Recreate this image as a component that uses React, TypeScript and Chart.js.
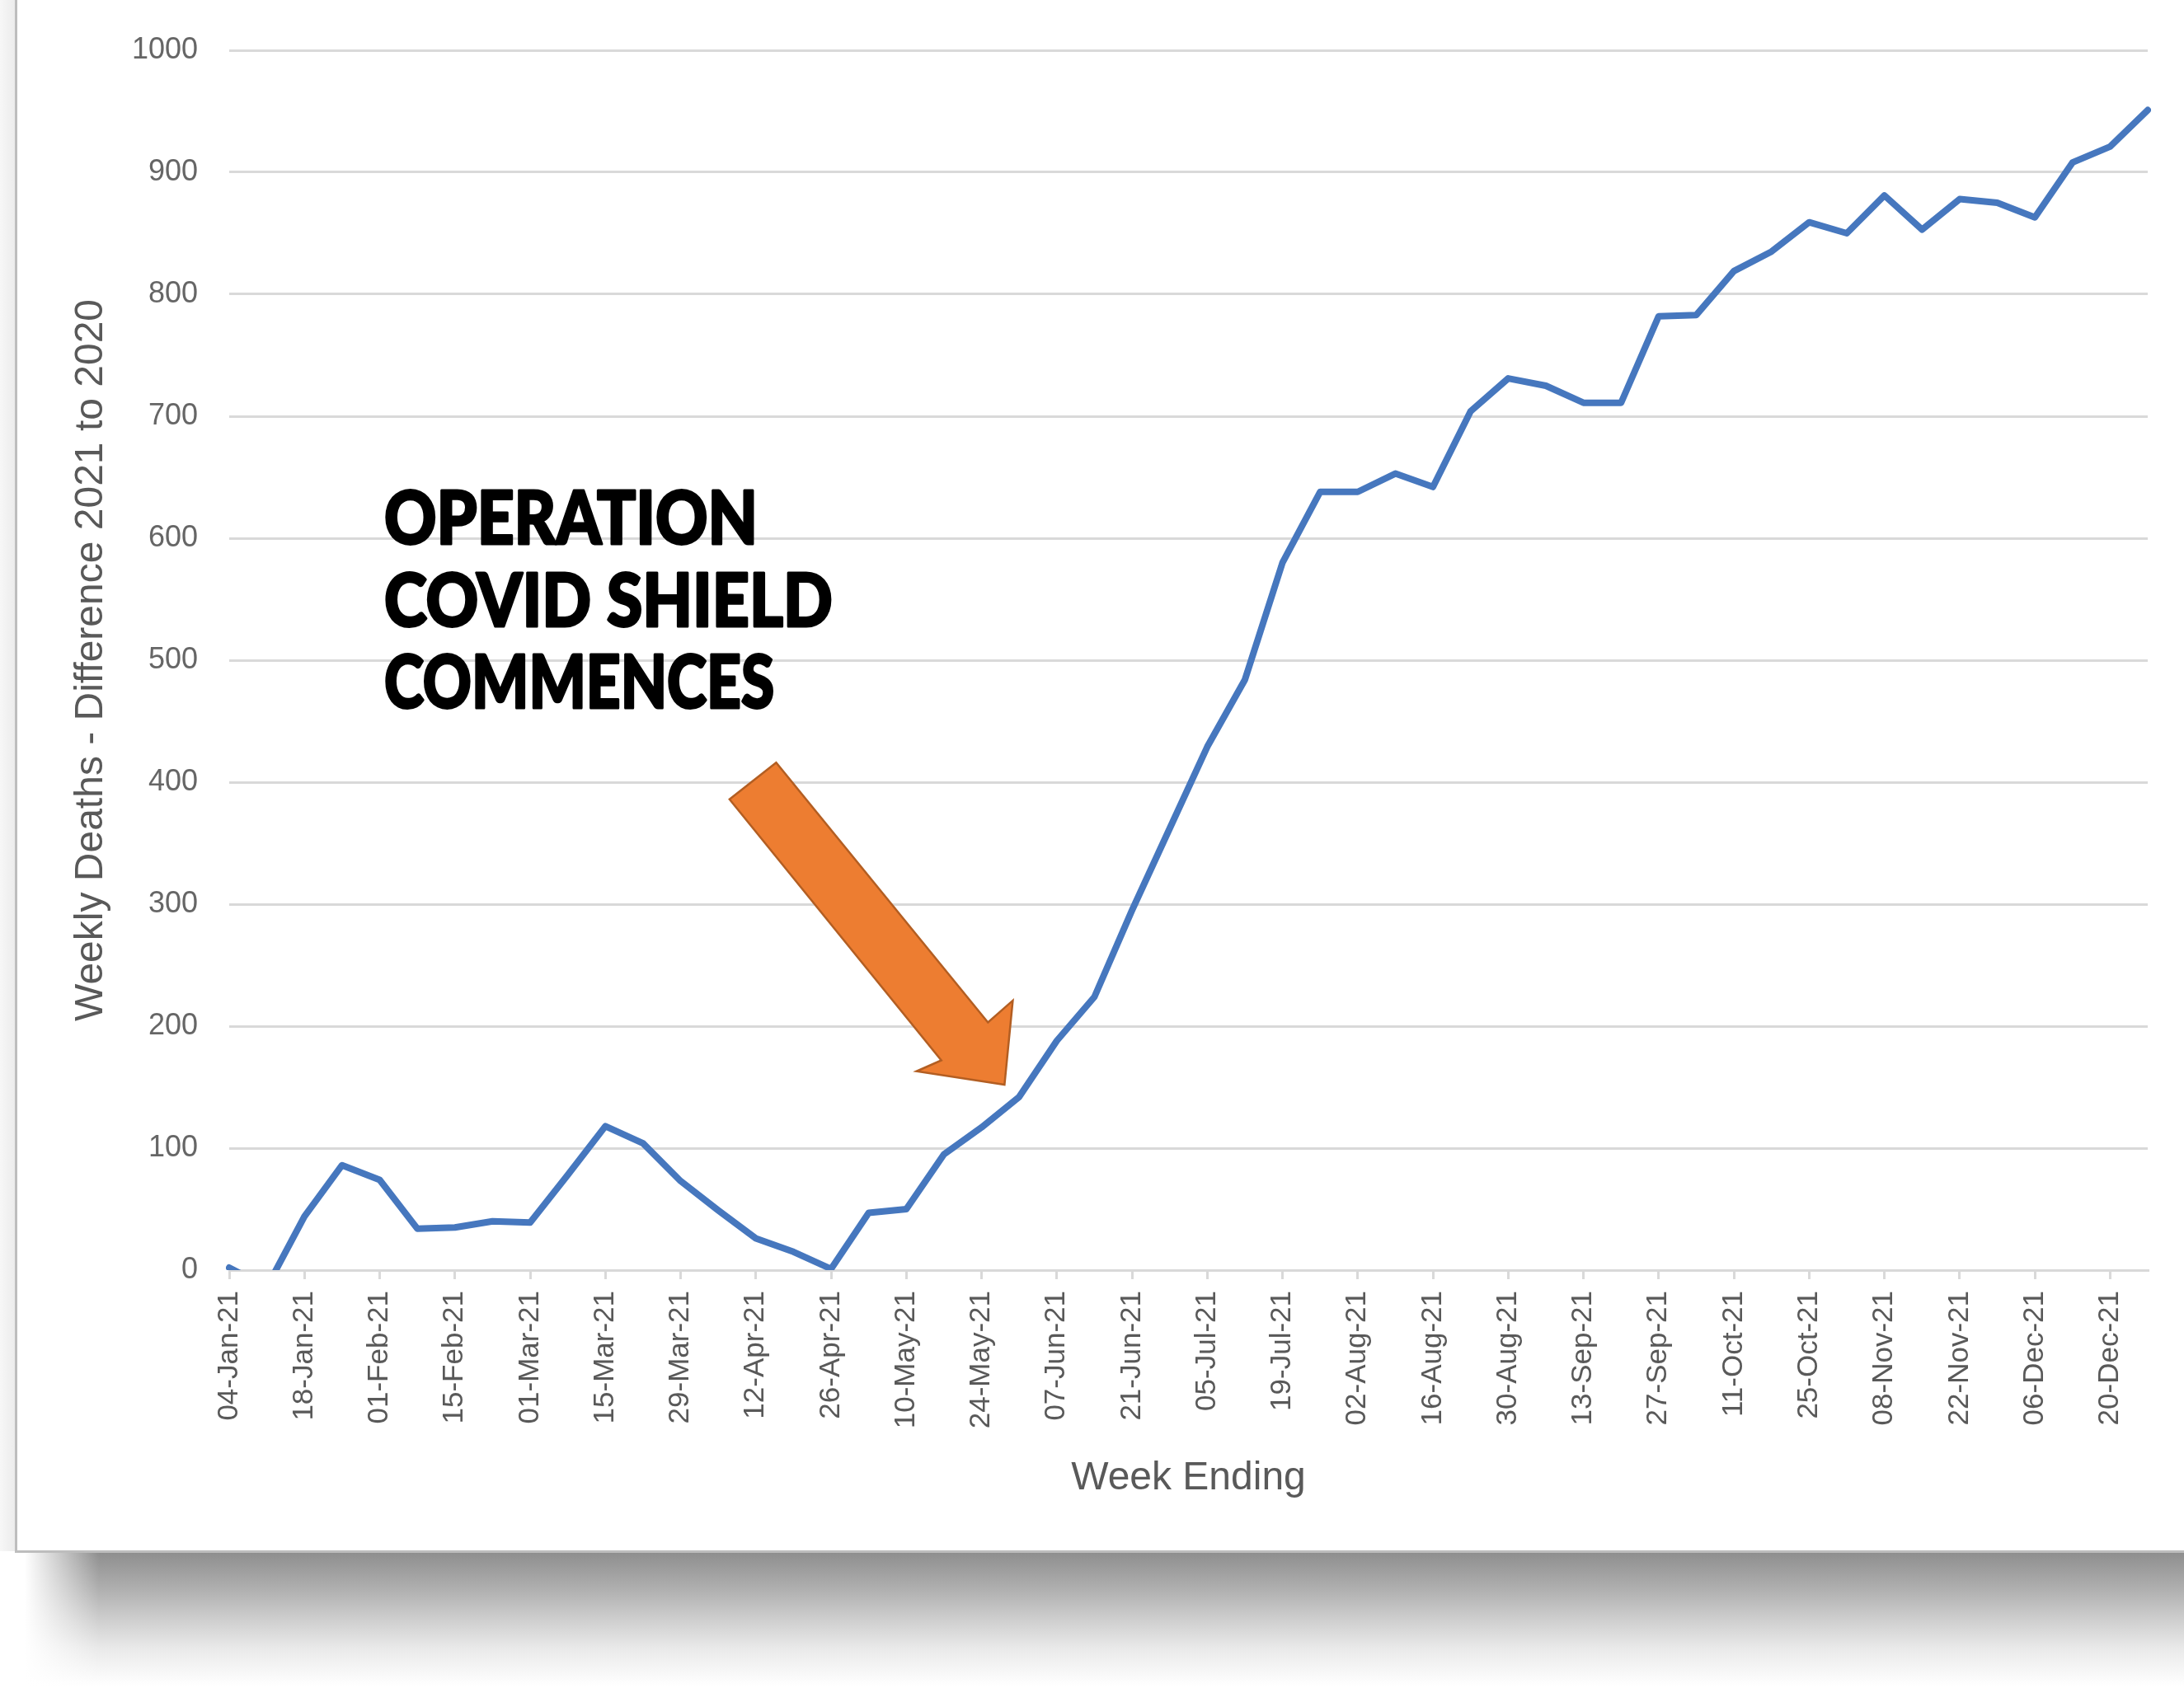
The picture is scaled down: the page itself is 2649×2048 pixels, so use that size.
import React, { useEffect, useRef } from 'react';
import { Chart, registerables } from 'chart.js';

Chart.register(...registerables);

// ---------------- data ----------------
const weekLabels: string[] = [
  '04-Jan-21', '11-Jan-21', '18-Jan-21', '25-Jan-21',
  '01-Feb-21', '08-Feb-21', '15-Feb-21', '22-Feb-21',
  '01-Mar-21', '08-Mar-21', '15-Mar-21', '22-Mar-21', '29-Mar-21',
  '05-Apr-21', '12-Apr-21', '19-Apr-21', '26-Apr-21',
  '03-May-21', '10-May-21', '17-May-21', '24-May-21', '31-May-21',
  '07-Jun-21', '14-Jun-21', '21-Jun-21', '28-Jun-21',
  '05-Jul-21', '12-Jul-21', '19-Jul-21', '26-Jul-21',
  '02-Aug-21', '09-Aug-21', '16-Aug-21', '23-Aug-21', '30-Aug-21',
  '06-Sep-21', '13-Sep-21', '20-Sep-21', '27-Sep-21',
  '04-Oct-21', '11-Oct-21', '18-Oct-21', '25-Oct-21',
  '01-Nov-21', '08-Nov-21', '15-Nov-21', '22-Nov-21', '29-Nov-21',
  '06-Dec-21', '13-Dec-21', '20-Dec-21', '27-Dec-21',
];

const weeklyDeathDifference: number[] = [
  2, -14, 44, 86,
  74, 34, 35, 40,
  39, 78, 118, 104, 73,
  49, 26, 15, 1,
  47, 50, 95, 117, 142,
  188, 224, 295, 362,
  429, 484, 580, 638,
  638, 653, 642, 704, 731,
  725, 711, 711, 782,
  783, 819, 835, 859,
  850, 881, 853, 878, 875,
  863, 908, 921, 951,
];

const yAxisMin = 0;
const yAxisMax = 1000;
const yAxisStep = 100;

const yAxisTitle = 'Weekly Deaths - Difference 2021 to 2020';
const xAxisTitle = 'Week Ending';
const annotationLines: string[] = ['OPERATION', 'COVID SHIELD', 'COMMENCES'];

// annotation placement in chart (index / value) space
const annotationLeftIndex = 4.12;
const annotationRightIndices: number[] = [14.05, 16.04, 14.49];
const annotationBaselines: number[] = [595, 528, 461];
const annotationCapHeight = 44;
const arrowOutline: [number, number][] = [
  [13.3, 386],
  [14.54, 416],
  [20.17, 203],
  [20.83, 221],
  [20.61, 152],
  [18.27, 163],
  [18.93, 172],
];

// ---------------- plugins ----------------
const cardPlugin = {
  id: 'cardBackground',
  beforeDraw(chart: any) {
    const { ctx, width, height } = chart;
    ctx.save();
    ctx.fillStyle = '#ffffff';
    ctx.fillRect(0, 0, width, height);

    const cardBottom = 1882;
    const lg = ctx.createLinearGradient(0, 0, 19, 0);
    lg.addColorStop(0, '#f7f7f7');
    lg.addColorStop(1, '#ebebeb');
    ctx.fillStyle = lg;
    ctx.fillRect(0, 0, 19, cardBottom);

    const sg = ctx.createLinearGradient(0, cardBottom, 0, 2045);
    sg.addColorStop(0, '#8d8d8d');
    sg.addColorStop(0.28, '#afafaf');
    sg.addColorStop(0.5, '#cdcdcd');
    sg.addColorStop(0.72, '#e9e9e9');
    sg.addColorStop(1, '#ffffff');
    ctx.fillStyle = sg;
    ctx.fillRect(20, cardBottom, width - 20, height - cardBottom);
    const fg = ctx.createLinearGradient(30, 0, 120, 0);
    fg.addColorStop(0, 'rgba(255,255,255,1)');
    fg.addColorStop(1, 'rgba(255,255,255,0)');
    ctx.fillStyle = fg;
    ctx.fillRect(18, cardBottom, 102, height - cardBottom);

    ctx.fillStyle = '#bdbdbd';
    ctx.fillRect(18, 0, 3, cardBottom + 2);
    ctx.fillRect(18, cardBottom - 1, width - 18, 3);
    ctx.restore();
  },
};

const annotationPlugin = {
  id: 'shieldAnnotation',
  afterDraw(chart: any) {
    const { ctx } = chart;
    const xs = chart.scales.x;
    const ys = chart.scales.y;
    const px = (i: number) => xs.getPixelForValue(i);
    const py = (v: number) => ys.getPixelForValue(v);

    ctx.save();
    ctx.beginPath();
    arrowOutline.forEach(([i, v], k) => {
      if (k === 0) ctx.moveTo(px(i), py(v));
      else ctx.lineTo(px(i), py(v));
    });
    ctx.closePath();
    ctx.fillStyle = '#ED7D31';
    ctx.fill();
    ctx.lineJoin = 'miter';
    ctx.strokeStyle = '#B35E22';
    ctx.lineWidth = 2.5;
    ctx.stroke();

    const capPx = py(0) - py(annotationCapHeight);
    const fontSize = capPx / 0.72;
    ctx.font = `900 ${fontSize}px Lato, "DejaVu Sans", sans-serif`;
    const left = px(annotationLeftIndex);
    ctx.fillStyle = '#000000';
    ctx.strokeStyle = '#000000';
    ctx.lineWidth = 3;
    ctx.lineJoin = 'round';
    ctx.textBaseline = 'alphabetic';
    ctx.textAlign = 'left';
    annotationLines.forEach((line, k) => {
      const w = ctx.measureText(line).width;
      const sx = (px(annotationRightIndices[k]) - left) / w;
      ctx.save();
      ctx.translate(left, py(annotationBaselines[k]));
      ctx.scale(sx, 1);
      ctx.fillText(line, 0, 0);
      ctx.strokeText(line, 0, 0);
      ctx.restore();
    });
    ctx.restore();
  },
};

// ---------------- component ----------------
export default function App() {
  const canvasRef = useRef<HTMLCanvasElement>(null);

  useEffect(() => {
    if (!canvasRef.current) return;
    const gridColor = '#d9d9d9';
    const tickColor = '#595959';
    const family = '"Liberation Sans", Arial, sans-serif';

    const chart = new Chart(canvasRef.current, {
      type: 'line',
      data: {
        labels: weekLabels,
        datasets: [
          {
            label: 'Weekly Deaths - Difference 2021 to 2020',
            data: weeklyDeathDifference,
            borderColor: '#4677BE',
            backgroundColor: '#4677BE',
            borderWidth: 8,
            pointRadius: 0,
            pointHoverRadius: 0,
            tension: 0,
            borderJoinStyle: 'round',
            borderCapStyle: 'round',
            fill: false,
          },
        ],
      },
      options: {
        responsive: false,
        maintainAspectRatio: false,
        animation: false,
        devicePixelRatio: 1,
        layout: { padding: { left: 0, top: 61, right: 44, bottom: 168 } },
        plugins: {
          legend: { display: false },
          tooltip: { enabled: false },
          title: { display: false },
        },
        scales: {
          x: {
            type: 'category',
            offset: false,
            afterFit: (scale: any) => {
              scale.height = 339;
              scale.paddingRight = 0;
              scale.paddingLeft = 0;
            },
            grid: {
              drawOnChartArea: false,
              drawTicks: true,
              tickLength: 11,
              tickWidth: 3,
              tickColor: (c: any) => (c.index % 2 === 0 ? gridColor : 'rgba(0,0,0,0)'),
              color: gridColor,
              lineWidth: 3,
            },
            border: { display: true, color: gridColor, width: 3 },
            ticks: {
              autoSkip: false,
              minRotation: 90,
              maxRotation: 90,
              padding: 14,
              color: tickColor,
              font: { family, size: 35 },
              callback: (_v: any, i: number) => (i % 2 === 0 ? weekLabels[i] : ''),
            },
            title: {
              display: true,
              text: xAxisTitle,
              color: tickColor,
              font: { family, size: 48 },
              padding: { top: 0, bottom: 57 },
            },
          },
          y: {
            min: yAxisMin,
            max: yAxisMax,
            afterFit: (scale: any) => {
              scale.width = 278;
            },
            grid: {
              color: gridColor,
              lineWidth: 3,
              drawTicks: false,
            },
            border: { display: false },
            ticks: {
              stepSize: yAxisStep,
              padding: 38,
              color: '#666666',
              font: { family, size: 36 },
              callback: (v: any) => String(v),
            },
            title: {
              display: true,
              text: yAxisTitle,
              color: tickColor,
              font: { family, size: 48 },
              padding: { top: 82, bottom: 0 },
            },
          },
        },
      },
      plugins: [cardPlugin, annotationPlugin],
    });
    return () => chart.destroy();
  }, []);

  return (
    <div style={{ position: 'absolute', left: 0, top: 0, width: 2649, height: 2048 }}>
      <canvas ref={canvasRef} width={2649} height={2048} style={{ display: 'block', width: 2649, height: 2048 }} />
    </div>
  );
}
